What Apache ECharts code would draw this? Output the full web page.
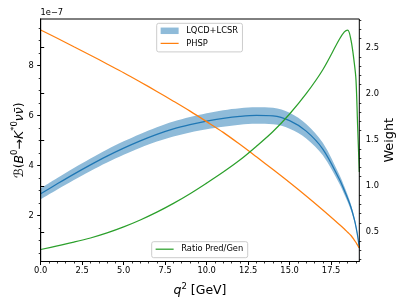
<!DOCTYPE html>
<html><head><meta charset="utf-8">
<script src="https://cdn.jsdelivr.net/npm/echarts@6/dist/echarts.min.js"></script>
<style>html,body{margin:0;padding:0;background:#fff}#c{width:407px;height:305px}</style>
</head><body><div id="c"></div>
<script>
// ---- data (q^2 in GeV, branching fraction in units of 1e-7, weight) ----
const q2       = [0, 1, 2, 3, 4, 5, 6, 7, 8, 9, 10, 11, 12, 13, 14, 15, 16, 17, 18, 18.3, 18.5, 18.7, 18.9, 19.0, 19.1, 19.2];
const phsp     = [9.43, 9.10, 8.76, 8.42, 8.07, 7.72, 7.35, 6.97, 6.58, 6.18, 5.76, 5.33, 4.85, 4.35, 3.84, 3.32, 2.78, 2.22, 1.64, 1.46, 1.33, 1.20, 1.02, 0.92, 0.81, 0.70];
const lqcd     = [2.87, 3.27, 3.66, 4.03, 4.38, 4.70, 4.99, 5.25, 5.47, 5.64, 5.78, 5.89, 5.97, 6.01, 5.99, 5.80, 5.38, 4.66, 3.45, 3.00, 2.68, 2.32, 1.85, 1.55, 1.18, 0.70];
const lqcdLow  = [2.65, 3.04, 3.42, 3.78, 4.12, 4.43, 4.71, 4.96, 5.17, 5.33, 5.46, 5.56, 5.64, 5.68, 5.66, 5.48, 5.09, 4.41, 3.27, 2.84, 2.54, 2.20, 1.76, 1.47, 1.12, 0.67];
const lqcdHigh = [3.09, 3.50, 3.90, 4.28, 4.64, 4.97, 5.27, 5.54, 5.77, 5.95, 6.10, 6.22, 6.30, 6.34, 6.32, 6.12, 5.67, 4.91, 3.63, 3.16, 2.82, 2.44, 1.94, 1.63, 1.24, 0.73];
const ratio    = [0.31, 0.35, 0.39, 0.435, 0.49, 0.555, 0.63, 0.715, 0.81, 0.915, 1.03, 1.15, 1.28, 1.43, 1.59, 1.78, 2.00, 2.26, 2.59, 2.67, 2.69, 2.58, 2.33, 2.15, 1.65, 1.15];

const xTickLabels      = [0, 2.5, 5, 7.5, 10, 12.5, 15, 17.5];
const yLeftTickLabels  = [2, 4, 6, 8];
const yRightTickLabels = [0.5, 1.0, 1.5, 2.0, 2.5];

const X_MIN = 0, X_MAX = 19.2;
const YL_MIN = 0.16, YL_MAX = 9.87;
const YR_MIN = 0.18, YR_MAX = 2.81;

function minors(lo, hi, step, majors) {
  const out = [];
  for (let v = lo; v <= hi + 1e-9; v += step) {
    const r = Math.round(v * 1000) / 1000;
    if (!majors.some(m => Math.abs(m - r) < 1e-6)) out.push(r);
  }
  return out;
}
const xMinor  = minors(0.5, 19.0, 0.5, xTickLabels);
const ylMinor = minors(0.5, 9.5, 0.5, yLeftTickLabels);
const yrMinor = minors(0.2, 2.8, 0.1, yRightTickLabels);

const pairs = arr => q2.map((x, i) => [x, arr[i]]);

const BLUE = '#1f77b4', ORANGE = '#ff7f0e', GREEN = '#2ca02c';
const BAND = '#8fbbd9';
const FONT = 'DejaVu Sans';
const TICKFS = 8.3;
const AX = '#000';
const SMOOTH = 0.35;

const chart = echarts.init(document.getElementById('c'), null, {renderer: 'canvas'});

const baseAxisLine = {show: true, lineStyle: {color: AX, width: 1}};
const tickLabel = {color: AX, fontFamily: FONT, fontSize: TICKFS};
const legendCommon = {
  orient: 'vertical', padding: [2.5, 4.5, 3.5, 3.3], itemGap: 2.6, itemWidth: 18, itemHeight: 6.5,
  backgroundColor: 'rgba(255,255,255,0.8)', borderColor: '#cccccc', borderWidth: 1, borderRadius: 2,
  textStyle: {fontFamily: FONT, fontSize: TICKFS, color: AX, lineHeight: 10, padding: [0, 0, 0, 2.6]},
  selectedMode: false, z: 20
};
const noSym = {color: 'rgba(0,0,0,0)', borderWidth: 0, opacity: 0};

const option = {
  animation: false,
  backgroundColor: '#fff',
  grid: {left: 40.7, right: 47.7, top: 19, bottom: 43.5, show: true, borderColor: AX, borderWidth: 1,
         backgroundColor: 'transparent', containLabel: false, outerBoundsMode: 'none', z: 10},
  graphic: [{
    type: 'text', left: 40.5, top: 8.5,
    style: {text: '1e\u22127', fontFamily: FONT, fontSize: TICKFS, fill: AX}
  }],
  legend: [Object.assign({}, legendCommon, {
    left: 156.7, top: 23.3,
    data: [
      {name: 'LQCD+LCSR', icon: 'rect', itemStyle: {color: BAND, borderWidth: 0}},
      {name: 'PHSP', itemStyle: noSym, lineStyle: {color: ORANGE, width: 1.25}}
    ]
  }), Object.assign({}, legendCommon, {
    left: 151.7, top: 241.7,
    data: [{name: 'Ratio Pred/Gen', itemStyle: noSym, lineStyle: {color: GREEN, width: 1.25}}]
  })],
  xAxis: [{
    type: 'value', min: X_MIN, max: X_MAX, position: 'bottom', z: 10,
    axisLine: baseAxisLine,
    axisTick: {show: true, length: 3.5, customValues: xTickLabels, lineStyle: {color: AX, width: 1}},
    axisLabel: Object.assign({margin: 5.5, customValues: xTickLabels, formatter: v => v.toFixed(1)}, tickLabel),
    splitLine: {show: false},
    name: '{i|q}{s|2}{n| [GeV]}', nameLocation: 'middle', nameGap: 21,
    nameTextStyle: {fontFamily: FONT, color: AX, rich: {
      i: {fontFamily: FONT, fontSize: 12.5, fontStyle: 'italic', lineHeight: 15, verticalAlign: 'bottom'},
      s: {fontFamily: FONT, fontSize: 8.5, lineHeight: 15, verticalAlign: 'top'},
      n: {fontFamily: FONT, fontSize: 12.5, lineHeight: 15, verticalAlign: 'bottom'}
    }}
  }, {
    type: 'value', min: X_MIN, max: X_MAX, position: 'bottom', z: 10,
    axisLine: {show: false},
    axisTick: {show: true, length: 2, customValues: xMinor, lineStyle: {color: AX, width: 0.8}},
    axisLabel: {show: false}, splitLine: {show: false}
  }],
  yAxis: [{
    type: 'value', min: YL_MIN, max: YL_MAX, position: 'left', z: 10,
    axisLine: baseAxisLine,
    axisTick: {show: true, length: 3.5, customValues: yLeftTickLabels, lineStyle: {color: AX, width: 1}},
    axisLabel: Object.assign({margin: 7, customValues: yLeftTickLabels, formatter: v => String(v)}, tickLabel),
    splitLine: {show: false},
    name: '{m|\u212C}{p|(}{i|B}{s|0}{p|\u2192}{i|K}{s|*0}{i|\u03BD\u03BD\u0304}{p|)}',
    nameLocation: 'middle', nameRotate: 90, nameGap: 14, nameMoveOverlap: false,
    nameTextStyle: {fontFamily: FONT, color: AX, rich: {
      m: {fontFamily: FONT, fontSize: 12.5, lineHeight: 16, verticalAlign: 'bottom'},
      p: {fontFamily: FONT, fontSize: 12.5, lineHeight: 16, verticalAlign: 'bottom'},
      i: {fontFamily: FONT, fontSize: 12.5, fontStyle: 'italic', lineHeight: 16, verticalAlign: 'bottom'},
      s: {fontFamily: FONT, fontSize: 8.5, lineHeight: 16, verticalAlign: 'top'}
    }}
  }, {
    type: 'value', min: YR_MIN, max: YR_MAX, position: 'right', z: 10,
    axisLine: baseAxisLine,
    axisTick: {show: true, length: 3.5, customValues: yRightTickLabels, lineStyle: {color: AX, width: 1}},
    axisLabel: Object.assign({margin: 6.5, customValues: yRightTickLabels, formatter: v => v.toFixed(1)}, tickLabel),
    splitLine: {show: false},
    name: 'Weight', nameLocation: 'middle', nameRotate: 90, nameGap: 24, nameMoveOverlap: false,
    nameTextStyle: {fontFamily: FONT, fontSize: 12.8, color: AX}
  }, {
    type: 'value', min: YL_MIN, max: YL_MAX, position: 'left', z: 10,
    axisLine: {show: false},
    axisTick: {show: true, length: 2, customValues: ylMinor, lineStyle: {color: AX, width: 0.8}},
    axisLabel: {show: false}, splitLine: {show: false}
  }, {
    type: 'value', min: YR_MIN, max: YR_MAX, position: 'right', z: 10,
    axisLine: {show: false},
    axisTick: {show: true, length: 2, customValues: yrMinor, lineStyle: {color: AX, width: 0.8}},
    axisLabel: {show: false}, splitLine: {show: false}
  }],
  series: [{
    // upper edge of the band, filled down to the axis
    name: 'LQCD+LCSR', type: 'line', xAxisIndex: 0, yAxisIndex: 0,
    data: pairs(lqcdHigh), symbol: 'none', smooth: SMOOTH,
    lineStyle: {width: 0, opacity: 0}, itemStyle: {color: BAND},
    areaStyle: {color: BAND, opacity: 1, origin: 'start'}, silent: true, z: 1
  }, {
    // lower edge of the band, white fill below it leaves only the band visible
    name: 'band-low', type: 'line', xAxisIndex: 0, yAxisIndex: 0,
    data: pairs(lqcdLow), symbol: 'none', smooth: SMOOTH,
    lineStyle: {width: 0, opacity: 0}, itemStyle: {color: '#fff'},
    areaStyle: {color: '#fff', opacity: 1, origin: 'start'}, silent: true, z: 2
  }, {
    name: 'LQCD central', type: 'line', xAxisIndex: 0, yAxisIndex: 0,
    data: pairs(lqcd), symbol: 'none', smooth: SMOOTH,
    lineStyle: {color: BLUE, width: 1.25}, itemStyle: {color: BLUE}, z: 3
  }, {
    name: 'PHSP', type: 'line', xAxisIndex: 0, yAxisIndex: 0,
    data: pairs(phsp), symbol: 'none', smooth: SMOOTH,
    lineStyle: {color: ORANGE, width: 1.25}, itemStyle: {color: ORANGE}, z: 3
  }, {
    name: 'Ratio Pred/Gen', type: 'line', xAxisIndex: 0, yAxisIndex: 1,
    data: pairs(ratio), symbol: 'none', smooth: SMOOTH,
    lineStyle: {color: GREEN, width: 1.25}, itemStyle: {color: GREEN}, z: 3
  }]
};
chart.setOption(option);
</script>
</body></html>
